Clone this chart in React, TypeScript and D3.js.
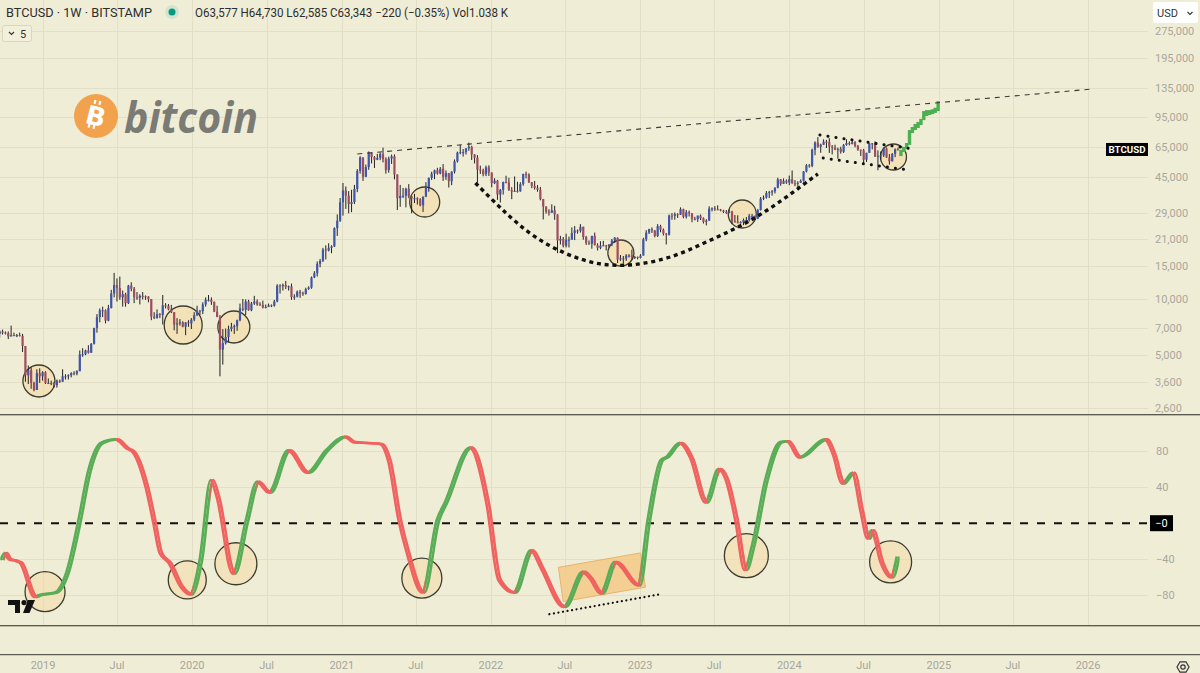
import React from "react";
import * as d3 from "d3";

// ---------------- DATA ----------------
const firstWeek = "2018-09-17";
const firstOpen = 6.5; // thousand USD

// weekly candles [high, low, close] in thousand USD (open = previous close)
const w2018 = [
  [6.8, 6.2, 6.7], [6.85, 6.45, 6.6], [6.7, 6.45, 6.55], [6.7, 6.1, 6.3], [7.2, 6.3, 6.4], [6.6, 6.35, 6.4],
  [6.5, 6.25, 6.4], [6.6, 6.3, 6.35], [6.5, 5.2, 5.6], [5.6, 3.6, 3.9], [4.4, 3.5, 4.15], [4.3, 3.3, 3.55],
  [3.6, 3.2, 3.25], [4.2, 3.25, 4.0], [4.25, 3.55, 3.85], [4.1, 3.65, 4.05],
];
const w2019 = [
  [4.1, 3.5, 3.55], [3.75, 3.5, 3.55], [3.65, 3.45, 3.55], [3.6, 3.35, 3.45], [3.7, 3.35, 3.65], [3.7, 3.55, 3.6],
  [4.2, 3.6, 3.85], [3.95, 3.7, 3.85], [3.95, 3.7, 3.9], [4.05, 3.8, 4.0], [4.1, 3.9, 3.98], [4.15, 3.9, 4.1],
  [5.3, 4.1, 5.05], [5.45, 4.9, 5.05], [5.35, 5.0, 5.3], [5.65, 5.1, 5.15], [5.8, 5.15, 5.75], [7.0, 5.7, 7.0],
  [8.3, 6.6, 8.0], [8.9, 7.5, 8.7], [9.1, 8.0, 8.7], [8.8, 7.4, 7.65], [9.3, 7.6, 8.95], [11.2, 8.9, 10.7],
  [13.8, 10.2, 11.9], [12.9, 9.7, 11.45], [13.2, 9.9, 10.2], [11.1, 9.1, 10.6], [10.8, 9.1, 9.5], [11.9, 9.4, 11.8],
  [12.3, 11.0, 11.35], [11.6, 9.5, 10.2], [10.9, 9.9, 10.15], [10.6, 9.35, 10.4], [10.9, 9.95, 10.35], [10.45, 9.9, 10.3],
  [10.35, 9.6, 9.98], [10.0, 7.7, 8.05], [8.5, 7.8, 7.9], [8.8, 7.85, 8.3], [8.4, 7.9, 8.2], [10.5, 7.3, 9.25],
  [9.5, 8.9, 9.2], [9.4, 8.7, 8.8], [9.3, 8.4, 8.5], [8.5, 6.8, 7.3], [7.9, 6.5, 7.4], [7.8, 7.2, 7.5],
  [7.6, 7.05, 7.1], [7.5, 6.4, 7.5], [7.7, 7.1, 7.4], [7.9, 6.9, 7.75],
];
const w2020 = [
  [8.5, 7.6, 8.2], [9.2, 8.1, 8.65], [8.75, 8.2, 8.6], [9.6, 8.3, 9.35], [10.2, 9.1, 9.9], [10.5, 9.7, 9.9],
  [10.2, 9.3, 9.65], [9.7, 8.5, 8.55], [9.2, 8.0, 8.0], [8.2, 3.85, 5.35], [6.9, 4.45, 5.8], [6.95, 5.7, 6.25],
  [7.2, 5.9, 6.9], [7.45, 6.7, 7.1], [7.3, 6.5, 7.15], [7.75, 6.75, 7.7], [9.45, 7.6, 8.9], [10.0, 8.6, 8.75],
  [9.95, 8.2, 9.7], [9.9, 8.65, 8.7], [9.65, 8.6, 9.45], [10.4, 9.3, 9.7], [9.95, 9.2, 9.35], [9.6, 9.2, 9.3],
  [9.8, 8.9, 9.0], [9.35, 8.9, 9.07], [9.45, 9.05, 9.25], [9.35, 9.05, 9.2], [9.9, 9.1, 9.7], [12.0, 9.6, 11.8],
  [12.0, 10.7, 11.7], [12.1, 11.1, 11.9], [12.5, 11.3, 11.65], [11.8, 11.1, 11.7], [12.1, 9.9, 10.25], [10.6, 9.9, 10.3],
  [11.1, 10.2, 10.95], [11.2, 10.15, 10.75], [10.95, 10.4, 10.65], [11.5, 10.55, 11.3], [11.7, 11.2, 11.5], [13.2, 11.35, 13.05],
  [14.1, 12.95, 13.75], [15.9, 13.2, 15.45], [16.4, 14.8, 16.0], [18.8, 15.8, 18.4], [19.4, 16.3, 18.2], [19.9, 18.0, 18.8],
  [19.4, 17.6, 19.15], [24.2, 19.0, 24.0], [28.4, 21.8, 26.3], [34.8, 25.9, 33.0],
];
const w2021 = [
  [41.9, 28.0, 38.2], [40.1, 30.4, 35.8], [37.9, 28.8, 32.3], [38.5, 29.2, 33.1], [40.9, 32.3, 38.9], [49.7, 37.4, 48.6],
  [58.3, 47.0, 57.4], [57.5, 43.0, 45.2], [52.6, 45.0, 51.0], [61.8, 49.3, 61.2], [61.2, 53.3, 57.6], [58.4, 50.4, 55.8],
  [60.0, 55.5, 57.1], [61.2, 55.5, 59.9], [64.8, 54.0, 56.2], [57.5, 47.0, 49.1], [58.0, 47.5, 56.6], [59.5, 53.0, 58.2],
  [59.6, 43.8, 46.5], [46.6, 30.0, 34.7], [40.9, 31.2, 35.7], [39.4, 34.8, 35.8], [39.5, 31.0, 39.0], [41.3, 34.7, 35.5],
  [35.7, 28.8, 34.7], [36.6, 32.7, 34.7], [35.1, 32.1, 34.2], [34.7, 31.4, 31.8], [35.4, 29.3, 35.4], [42.3, 35.2, 39.9],
  [44.8, 37.6, 44.6], [48.1, 43.5, 47.0], [49.4, 43.9, 49.0], [50.5, 46.4, 47.1], [51.0, 46.6, 49.9], [52.9, 43.0, 45.2],
  [48.9, 43.5, 47.3], [47.4, 39.6, 42.8], [48.4, 40.8, 48.2], [56.0, 47.1, 54.7], [61.7, 53.9, 60.9], [67.0, 59.7, 61.3],
  [63.7, 58.0, 61.3], [64.3, 59.5, 64.3], [69.0, 62.3, 65.5], [66.3, 55.6, 59.7], [59.3, 53.3, 57.2], [59.1, 42.0, 49.4],
  [51.9, 46.8, 48.9], [50.0, 45.5, 46.7], [51.9, 45.6, 50.8], [52.1, 45.7, 47.7],
];
const w2022 = [
  [47.6, 39.7, 41.8], [44.4, 41.3, 43.1], [43.5, 34.0, 36.3], [38.9, 32.9, 38.5], [42.6, 36.3, 42.4], [45.8, 41.7, 42.2],
  [44.7, 38.0, 38.4], [39.8, 34.3, 37.7], [45.4, 37.5, 38.0], [42.5, 37.2, 37.8], [42.3, 37.6, 41.3], [47.0, 40.5, 46.8],
  [48.2, 44.3, 46.4], [47.2, 41.9, 42.2], [42.4, 39.3, 40.4], [42.9, 38.6, 39.5], [40.8, 37.6, 38.5], [39.9, 33.8, 34.3],
  [34.4, 26.7, 31.3], [31.4, 28.7, 29.4], [30.3, 28.0, 29.0], [32.2, 29.3, 29.9], [31.6, 26.6, 28.4], [28.4, 17.6, 20.6],
  [21.8, 19.6, 21.0], [21.5, 18.9, 19.3], [22.4, 18.9, 20.8], [21.6, 18.9, 20.8], [24.2, 20.8, 22.6], [24.6, 20.7, 23.3],
  [23.6, 22.4, 23.2], [25.2, 22.7, 24.4], [24.4, 20.8, 21.5], [21.8, 19.5, 20.0], [20.6, 19.5, 19.8], [21.8, 18.6, 21.8],
  [22.7, 19.4, 19.4], [19.9, 18.2, 18.8], [20.4, 18.5, 19.3], [20.5, 19.2, 19.4], [19.5, 18.2, 19.2], [19.7, 18.9, 19.6],
  [21.0, 19.2, 20.6], [21.5, 20.0, 21.3], [21.4, 15.6, 16.3], [17.2, 16.0, 16.5], [17.0, 15.5, 16.5], [17.4, 16.0, 17.1],
  [17.4, 16.7, 17.1], [18.4, 16.3, 16.8], [17.0, 16.4, 16.8], [16.9, 16.3, 16.6],
];
const w2023 = [
  [17.4, 16.5, 17.1], [21.3, 17.1, 20.9], [23.4, 20.4, 22.7], [23.8, 22.3, 23.7], [24.2, 22.6, 23.3], [23.4, 21.4, 21.8],
  [25.2, 21.5, 24.6], [25.0, 22.8, 23.5], [23.9, 21.9, 22.4], [22.6, 19.6, 22.1], [28.4, 21.9, 28.0], [28.9, 26.6, 27.9],
  [29.1, 26.6, 28.5], [28.8, 27.2, 28.3], [31.0, 28.2, 30.3], [30.5, 27.1, 27.6], [30.0, 27.0, 29.2], [29.8, 27.7, 28.8],
  [28.9, 25.8, 26.9], [27.6, 26.4, 26.8], [28.0, 25.9, 28.0], [28.4, 26.5, 27.1], [27.4, 25.4, 25.9], [26.8, 24.8, 26.3],
  [31.4, 26.3, 30.5], [31.0, 29.5, 30.6], [31.5, 29.7, 30.3], [31.8, 29.9, 30.2], [30.4, 29.5, 29.8], [30.1, 28.9, 29.3],
  [30.0, 28.6, 29.0], [30.2, 28.8, 29.4], [29.7, 25.2, 26.1], [28.2, 25.7, 26.0], [28.1, 25.4, 25.8], [26.1, 25.4, 25.8],
  [27.0, 24.9, 26.5], [27.5, 26.0, 26.5], [28.6, 26.0, 27.9], [28.6, 27.2, 27.9], [28.0, 26.6, 26.9], [30.4, 26.8, 30.0],
  [35.2, 29.8, 34.5], [35.9, 33.9, 35.0], [37.9, 34.5, 37.0], [38.0, 34.8, 37.4], [38.4, 35.8, 37.8], [39.7, 36.8, 39.5],
  [44.7, 39.2, 43.8], [44.0, 40.5, 41.4], [44.3, 41.5, 43.0], [43.8, 41.4, 42.1],
];
const w2024 = [
  [45.9, 40.8, 43.9], [48.9, 41.5, 41.7], [43.4, 40.3, 41.5], [42.8, 38.6, 42.0], [43.8, 41.9, 43.0], [48.5, 42.6, 48.3],
  [52.9, 47.7, 52.1], [52.9, 50.6, 51.7], [64.0, 50.9, 63.1], [70.0, 59.0, 69.0], [73.8, 64.6, 65.5], [68.0, 60.8, 67.2],
  [71.8, 66.9, 69.7], [71.3, 64.5, 69.4], [72.8, 60.7, 65.7], [66.9, 59.6, 64.9], [67.2, 62.8, 63.1], [64.8, 56.5, 63.9],
  [65.5, 60.2, 61.5], [67.7, 60.7, 67.0], [71.9, 66.3, 68.5], [70.0, 66.6, 67.7], [71.9, 67.5, 69.3], [70.2, 65.0, 66.2],
  [67.0, 62.3, 63.2], [62.3, 58.5, 62.7], [63.8, 53.6, 55.8], [60.3, 54.3, 60.8], [68.4, 60.7, 68.2], [68.5, 63.4, 68.3],
  [70.1, 57.7, 58.1], [62.7, 49.0, 58.7], [61.8, 56.1, 58.9], [65.0, 57.8, 64.2], [64.9, 57.2, 57.3], [59.8, 52.6, 54.8],
  [60.6, 54.6, 60.0], [64.1, 57.6, 63.577],
];
const lastWeek = [64.73, 62.585, 63.343];

// green projected "bars pattern" (weekly high / low, thousand USD)
const projStart = "2024-09-30";
const projHigh = [63.0, 65.4, 68.6, 80.5, 83.6, 86.8, 89.0, 92.4, 101.8, 103.0, 103.0, 104.0, 106.0, 115.0];
const projLow = [58.4, 61.4, 63.8, 67.0, 77.6, 80.5, 82.6, 85.7, 91.0, 95.8, 97.0, 98.0, 99.5, 101.8];

// oscillator (lower pane)
const indDates = [
  "2018-09-19", "2018-09-29", "2018-10-09", "2018-10-26", "2018-11-05", "2018-12-11", "2018-12-21", "2019-01-30",
  "2019-02-26", "2019-03-27", "2019-04-22", "2019-05-22", "2019-06-27", "2019-07-24", "2019-08-08", "2019-09-09",
  "2019-09-28", "2019-10-13", "2019-11-04", "2019-12-04", "2019-12-26", "2020-01-19", "2020-02-15", "2020-03-01",
  "2020-04-09", "2020-05-11", "2020-06-07", "2020-07-06", "2020-08-22", "2020-10-07", "2020-11-23", "2021-01-08",
  "2021-01-28", "2021-03-01", "2021-04-04", "2021-04-24", "2021-05-20", "2021-06-09", "2021-07-16", "2021-08-21",
  "2021-09-10", "2021-11-10", "2021-12-21", "2022-01-19", "2022-02-25", "2022-04-08", "2022-05-02", "2022-06-27",
  "2022-08-13", "2022-08-30", "2022-09-26", "2022-10-30", "2022-12-26", "2023-01-19", "2023-02-20", "2023-03-04",
  "2023-04-07", "2023-05-04", "2023-06-09", "2023-07-11", "2023-07-28", "2023-08-22", "2023-09-13", "2023-10-02",
  "2023-11-03", "2023-12-09", "2023-12-26", "2024-01-24", "2024-03-28", "2024-04-17", "2024-05-09", "2024-06-03",
  "2024-06-23", "2024-07-10", "2024-07-20", "2024-08-11", "2024-09-05", "2024-09-20",
];
const indValues = [
  -41, -33, -40, -42, -44, -82, -80, -77,
  -56, 0, 59, 89, 93, 83, 79, 40,
  0, -33, -44, -71, -79, -41, 48, 29,
  -56, 3, 46, 34, 81, 56, 81, 96,
  90, 89, 88, 70, 3, -33, -77, 3,
  23, 84, 22, -63, -77, -30, -49, -93,
  -54, -61, -78, -43, -69, 3, 70, 73,
  89, 72, 23, 60, 50, 3, -52, -24,
  48, 90, 91, 73, 93, 76, 44, 56,
  14, -17, -8, -43, -60, -37,
];

// axes
const priceTicks = [275, 195, 135, 95, 65, 45, 29, 21, 15, 10, 7, 5, 3.6, 2.6];
const indTicks = [80, 40, -40, -80];
const timeTickDates = [
  "2019-01-01", "2019-07-01", "2020-01-01", "2020-07-01", "2021-01-01", "2021-07-01", "2022-01-01", "2022-07-01",
  "2023-01-01", "2023-07-01", "2024-01-01", "2024-07-01", "2025-01-01", "2025-07-01", "2026-01-01",
];
const timeTickLabels = ["2019", "Jul", "2020", "Jul", "2021", "Jul", "2022", "Jul", "2023", "Jul", "2024", "Jul", "2025", "Jul", "2026"];

// annotations (data space)
const trendDates = ["2021-02-08", "2026-01-13"];
const trendPrices = [59.9, 133.7];
const cupDates = ["2021-11-24", "2022-01-24", "2022-04-14", "2022-07-31", "2022-11-06", "2023-03-08", "2023-05-27", "2023-08-16", "2023-10-14", "2023-12-16", "2024-02-03", "2024-03-11"];
const cupPrices = [41.9, 30.76, 21.24, 16.19, 14.66, 16.19, 19.48, 23.44, 27.52, 33.95, 40.85, 46.8];
const chanTopDates = ["2024-03-16", "2024-10-30"];
const chanTopPrices = [75.7, 63.7];
const chanBotDates = ["2024-03-24", "2024-10-18"];
const chanBotPrices = [57.0, 49.17];
const priceCircleDates = ["2018-12-22", "2019-12-10", "2020-04-12", "2021-07-23", "2022-11-15", "2023-09-08", "2024-09-12"];
const priceCirclePrices = [3.634, 7.254, 7.077, 33.12, 17.65, 28.56, 57.72];
const priceCircleR = [16, 19, 16, 15, 13, 14, 13];
const indCircleDates = ["2019-01-06", "2019-12-20", "2020-04-17", "2021-07-16", "2023-09-18", "2024-09-05"];
const indCircleValues = [-76, -63, -45, -61, -36, -43];
const indCircleR = [20, 19, 21, 20, 22, 21];
const boxDates = ["2022-06-15", "2023-01-02", "2023-01-14", "2022-06-27"];
const boxValues = [-49, -33, -71, -87];
const supportDates = ["2022-05-24", "2023-02-17"];
const supportValues = [-101, -79];

// ---------------- CHART ----------------
const BG = "#f0edd7";
const GRID = "#e3dfc6";
const PR = 1148;

export default function App() {
  const parse = d3.utcParse("%Y-%m-%d");
  const x = d3.scaleUtc().domain([new Date(Date.UTC(2019, 0, 1)), new Date(Date.UTC(2026, 0, 1))]).range([43, 1088]);
  const yP = d3.scaleLog().domain([2.418, 401]).range([414, 0]);
  const yI = d3.scaleLinear().domain([-113, 119]).range([625, 416]);
  const fmt = d3.format(",");

  const all = [...w2018, ...w2019, ...w2020, ...w2021, ...w2022, ...w2023, ...w2024, lastWeek];
  const start = parse(firstWeek) as Date;
  let prev = firstOpen;
  const candles = all.map((d, i) => {
    const o = prev;
    prev = d[2];
    return { date: d3.utcDay.offset(start, 7 * i), o, h: d[0], l: d[1], c: d[2] };
  });
  const pStart = parse(projStart) as Date;
  const proj = projHigh.map((h, i) => ({ date: d3.utcDay.offset(pStart, 7 * i), h, l: projLow[i] }));

  const pts = indDates.map((d, i) => ({ x: x(parse(d) as Date), v: indValues[i] }));
  const indLine = d3.line<{ x: number; v: number }>().x((d) => d.x).y((d) => yI(d.v)).curve(d3.curveMonotoneX);
  const indPath = indLine(pts) || "";
  const rising: number[][] = [];
  const falling: number[][] = [];
  for (let i = 0; i < pts.length - 1; i++) {
    (pts[i + 1].v >= pts[i].v ? rising : falling).push([pts[i].x, pts[i + 1].x]);
  }

  const lineP = (dates: string[], prices: number[], curve: any = d3.curveLinear) =>
    d3.line<number>().x((_, i) => x(parse(dates[i]) as Date)).y((p) => yP(p)).curve(curve)(prices) || "";
  const lineI = (dates: string[], vals: number[]) =>
    d3.line<number>().x((_, i) => x(parse(dates[i]) as Date)).y((v) => yI(v))(vals) || "";

  const tickXs = timeTickDates.map((d) => x(parse(d) as Date));
  const lastY = yP(lastWeek[2]);
  const hex = d3.range(6).map((k) => {
    const a = (Math.PI / 3) * k;
    return `${1183 + 6 * Math.cos(a)},${667 + 6 * Math.sin(a)}`;
  }).join(" ");

  const font = "Roboto, 'Noto Sans', sans-serif";

  return (
    <svg width={1200} height={673} style={{ position: "absolute", left: 0, top: 0 }} fontFamily={font}>
      <defs>
        <clipPath id="priceClip"><rect x={0} y={0} width={PR} height={414} /></clipPath>
        <clipPath id="indClip"><rect x={0} y={416} width={PR} height={209} /></clipPath>
        <clipPath id="riseClip">
          {rising.map((s, i) => <rect key={i} x={s[0] - 0.3} y={400} width={s[1] - s[0] + 3.2} height={240} />)}
        </clipPath>
        <clipPath id="fallClip">
          {falling.map((s, i) => <rect key={i} x={s[0] - 0.3} y={400} width={s[1] - s[0] + 3.2} height={240} />)}
        </clipPath>
      </defs>
      <rect x={0} y={0} width={1200} height={673} fill={BG} />

      {/* grid */}
      {priceTicks.map((t) => (
        <line key={"pg" + t} x1={0} x2={PR} y1={Math.round(yP(t)) + 0.5} y2={Math.round(yP(t)) + 0.5} stroke={GRID} />
      ))}
      {indTicks.map((t) => (
        <line key={"ig" + t} x1={0} x2={PR} y1={Math.round(yI(t)) + 0.5} y2={Math.round(yI(t)) + 0.5} stroke={GRID} />
      ))}
      {tickXs.map((tx, i) => (
        <g key={"vg" + i}>
          <line x1={Math.round(tx) + 0.5} x2={Math.round(tx) + 0.5} y1={0} y2={414} stroke={GRID} />
          <line x1={Math.round(tx) + 0.5} x2={Math.round(tx) + 0.5} y1={416} y2={625} stroke={GRID} />
        </g>
      ))}

      {/* bitcoin logo */}
      <g>
        <circle cx={96} cy={116} r={22} fill="#f2a24c" />
        <g transform="rotate(14 96 116)">
          <text x={96} y={125.5} textAnchor="middle" fontSize={26} fontWeight="bold" fill="#fff" fontFamily="'DejaVu Sans', sans-serif">B</text>
          <rect x={90.5} y={100.5} width={2.2} height={4} fill="#fff" />
          <rect x={95.5} y={100.5} width={2.2} height={4} fill="#fff" />
          <rect x={90.5} y={125} width={2.2} height={4} fill="#fff" />
          <rect x={95.5} y={125} width={2.2} height={4} fill="#fff" />
        </g>
        <text x={124} y={133} fontSize={43} fontStyle="italic" fontWeight="bold" fill="#7b7b76" textLength={134} lengthAdjust="spacingAndGlyphs" fontFamily="'Open Sans', sans-serif">bitcoin</text>
      </g>

      {/* price pane */}
      <g clipPath="url(#priceClip)">
        {priceCircleDates.map((d, i) => (
          <circle key={"pc" + i} cx={x(parse(d) as Date)} cy={yP(priceCirclePrices[i])} r={priceCircleR[i]} fill="#f3dcaa" fillOpacity={0.7} stroke="#3d3b2f" strokeWidth={1.3} />
        ))}
        {candles.map((c, i) => {
          const cx = x(c.date);
          const up = c.c >= c.o;
          const top = yP(Math.max(c.o, c.c));
          const bot = yP(Math.min(c.o, c.c));
          return (
            <g key={"c" + i}>
              <line x1={cx} x2={cx} y1={yP(Math.max(c.h, c.o, c.c))} y2={yP(Math.min(c.l, c.o, c.c))} stroke="#222" strokeWidth={1} />
              <rect x={cx - 1.1} y={top} width={2.2} height={Math.max(1, bot - top)} fill={up ? "#3e56ab" : "#a14d5e"} />
            </g>
          );
        })}
        {proj.map((p, i) => (
          <rect key={"g" + i} x={x(p.date) - 1.6} y={yP(p.h)} width={3.4} height={yP(p.l) - yP(p.h)} fill="#4caf50" />
        ))}
        <path d={lineP(trendDates, trendPrices)} fill="none" stroke="#3a3a34" strokeWidth={1.1} strokeDasharray="5 5" />
        <path d={lineP(cupDates, cupPrices, d3.curveBasis)} fill="none" stroke="#111" strokeWidth={3.4} strokeDasharray="4 3.8" />
        <path d={lineP(chanTopDates, chanTopPrices)} fill="none" stroke="#111" strokeWidth={3} strokeDasharray="0.1 8" strokeLinecap="round" />
        <path d={lineP(chanBotDates, chanBotPrices)} fill="none" stroke="#111" strokeWidth={3} strokeDasharray="0.1 8" strokeLinecap="round" />
      </g>

      {/* indicator pane */}
      <g clipPath="url(#indClip)">
        <line x1={0} x2={PR} y1={yI(0)} y2={yI(0)} stroke="#111" strokeWidth={2} strokeDasharray="8 9" />
        <path d={lineI(boxDates, boxValues) + "Z"} fill="#f5c47e" fillOpacity={0.75} stroke="#e9b46a" strokeWidth={1} />
        <path d={lineI(supportDates, supportValues)} fill="none" stroke="#111" strokeWidth={2.2} strokeDasharray="0.1 4.5" strokeLinecap="round" />
        {indCircleDates.map((d, i) => (
          <circle key={"ic" + i} cx={x(parse(d) as Date)} cy={yI(indCircleValues[i])} r={indCircleR[i]} fill="#f3dcaa" fillOpacity={0.6} stroke="#3d3b2f" strokeWidth={1.3} />
        ))}
        <g clipPath="url(#riseClip)" stroke="#5aad57" fill="none" strokeWidth={2.6} strokeLinejoin="round">
          <path d={indPath} />
          <path d={indPath} transform="translate(2.6,0)" />
        </g>
        <g clipPath="url(#fallClip)" stroke="#f0625f" fill="none" strokeWidth={2.6} strokeLinejoin="round">
          <path d={indPath} />
          <path d={indPath} transform="translate(2.6,0)" />
        </g>
      </g>

      {/* TradingView logo */}
      <g fill="#111">
        <path d="M8 600 H20 V613 H15 V605 H8 Z" />
        <circle cx={24} cy={602.6} r={2.6} />
        <path d="M28 600 H35 L29.5 613 H23 Z" />
      </g>

      {/* separators */}
      <line x1={0} x2={1200} y1={414.5} y2={414.5} stroke="#5c5b50" />
      <line x1={0} x2={1200} y1={415.5} y2={415.5} stroke="#bdb9a0" />
      <line x1={0} x2={1200} y1={625.5} y2={625.5} stroke="#5c5b50" />
      <line x1={0} x2={1200} y1={626.5} y2={626.5} stroke="#bdb9a0" />
      <line x1={0} x2={1200} y1={654.5} y2={654.5} stroke="#5c5b50" />
      <line x1={0} x2={1200} y1={655.5} y2={655.5} stroke="#cfcbb2" />

      {/* price axis labels */}
      {priceTicks.map((t) => (
        <text key={"pl" + t} x={1155} y={yP(t) + 4} fontSize={11} fill="#a9a79b">{fmt(Math.round(t * 1000))}</text>
      ))}
      {indTicks.map((t) => (
        <text key={"il" + t} x={1156} y={yI(t) + 4} fontSize={11} fill="#a9a79b">{t < 0 ? "\u2212" + Math.abs(t) : String(t)}</text>
      ))}
      <rect x={1150} y={yI(0) - 8} width={23} height={16} fill="#000" />
      <text x={1161.5} y={yI(0) + 4} fontSize={11} fill="#fff" textAnchor="middle">{"\u22120"}</text>

      <rect x={1106} y={lastY - 6.5} width={42} height={13} fill="#000" />
      <text x={1127} y={lastY + 3.5} fontSize={9.5} fontWeight="bold" fill="#fff" textAnchor="middle" textLength={37} lengthAdjust="spacingAndGlyphs">BTCUSD</text>

      {/* time axis labels */}
      {tickXs.map((tx, i) => (
        <text key={"tl" + i} x={tx} y={669} fontSize={11} fill="#a6a59a" textAnchor="middle">{timeTickLabels[i]}</text>
      ))}
      <polygon points={hex} fill="none" stroke="#333" strokeWidth={1.2} />
      <circle cx={1183} cy={667} r={2.2} fill="none" stroke="#333" strokeWidth={1.2} />

      {/* header */}
      <text x={6} y={17} fontSize={13} fill="#2d2d2d" textLength={146} lengthAdjust="spacingAndGlyphs">BTCUSD · 1W · BITSTAMP</text>
      <circle cx={172} cy={12} r={7} fill="#d3e3cf" />
      <circle cx={172} cy={12} r={3.5} fill="#089981" />
      <text x={195} y={17} fontSize={12} fill="#2d2d2d" textLength={313} lengthAdjust="spacingAndGlyphs">O63,577 H64,730 L62,585 C63,343 −220 (−0.35%) Vol1.038 K</text>
      <rect x={2.5} y={25.5} width={29} height={16} rx={2} fill="#f2efdb" stroke="#d9d5c0" />
      <polyline points="9,32 11.5,34.5 14,32" fill="none" stroke="#333" strokeWidth={1.1} />
      <text x={20} y={38} fontSize={11} fill="#333">5</text>

      <rect x={1153} y={2} width={45} height={21} rx={2} fill="#fff" />
      <text x={1157} y={16.5} fontSize={11} fill="#333">USD</text>
      <polyline points="1187.5,12 1190,14.5 1192.5,12" fill="none" stroke="#333" strokeWidth={1.1} />
    </svg>
  );
}
